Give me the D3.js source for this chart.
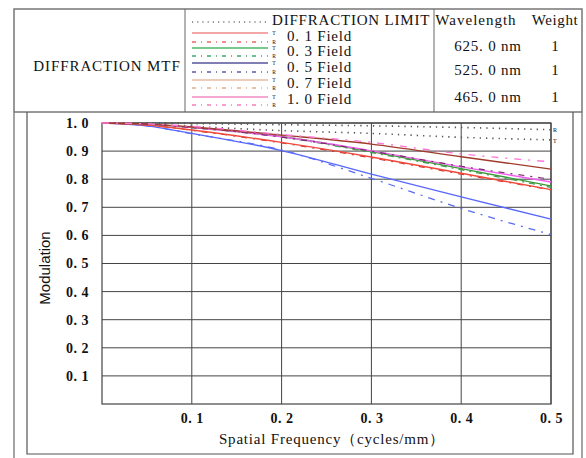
<!DOCTYPE html>
<html>
<head>
<meta charset="utf-8">
<script src="https://cdn.jsdelivr.net/npm/d3@7"></script>
<style>
  body { margin: 0; background: #fff; }
  svg text { font-family: "Liberation Serif", "Times New Roman", serif; fill: #111; }
</style>
</head>
<body>
<script>
const svgWidth = 586;
const svgHeight = 458;

// spatial frequency samples (cycles/mm)
const freq = [0, 0.05, 0.1, 0.2, 0.3, 0.4, 0.5];

// diffraction limit
const diffR = [1, 1.0, 0.998, 0.994, 0.99, 0.984, 0.976];
const diffT = [1, 0.996, 0.988, 0.973, 0.963, 0.949, 0.94];

// field curves (T = solid, R = dash-dot)
const field01T = [1, 0.993, 0.975, 0.931, 0.879, 0.821, 0.763];
const field01R = [1, 0.993, 0.974, 0.929, 0.876, 0.818, 0.762];
const field03T = [1, 0.996, 0.984, 0.952, 0.898, 0.838, 0.776];
const field03R = [1, 0.996, 0.983, 0.95, 0.895, 0.834, 0.771];
const field05T = [1, 0.99, 0.963, 0.902, 0.818, 0.737, 0.658];
const field05R = [1, 0.99, 0.962, 0.904, 0.803, 0.696, 0.603];
const field07T = [1, 0.996, 0.986, 0.957, 0.925, 0.88, 0.836];
const field07R = [1, 0.996, 0.984, 0.95, 0.9, 0.846, 0.80];
const field10T = [1, 0.996, 0.984, 0.951, 0.901, 0.844, 0.79];
const field10R = [1, 0.997, 0.988, 0.959, 0.931, 0.89, 0.862];

const xTicks = [0.1, 0.2, 0.3, 0.4, 0.5];
const yTicks = [0.1, 0.2, 0.3, 0.4, 0.5, 0.6, 0.7, 0.8, 0.9, 1.0];

const fieldLabels = ["0. 1 Field", "0. 3 Field", "0. 5 Field", "0. 7 Field", "1. 0 Field"];
const wavelengths = ["625. 0 nm", "525. 0 nm", "465. 0 nm"];
const weights = ["1", "1", "1"];

const svg = d3.select("body").append("svg")
    .attr("width", svgWidth)
    .attr("height", svgHeight);

// ---------- frames ----------
svg.append("rect")
    .attr("x", 14).attr("y", 9)
    .attr("width", 568).attr("height", 103)
    .attr("fill", "none").attr("stroke", "#777").attr("stroke-width", 1.5);
svg.append("line").attr("x1", 185).attr("x2", 185).attr("y1", 9).attr("y2", 112)
    .attr("stroke", "#666").attr("stroke-width", 1);
svg.append("line").attr("x1", 434).attr("x2", 434).attr("y1", 9).attr("y2", 112)
    .attr("stroke", "#666").attr("stroke-width", 1);
// lower outer frame
svg.append("path")
    .attr("d", "M14,112 V460 M582,112 V460")
    .attr("fill", "none").attr("stroke", "#888").attr("stroke-width", 1.5);
// inner frame
svg.append("path")
    .attr("d", "M27,112 V454 H573 V112")
    .attr("fill", "none").attr("stroke", "#555").attr("stroke-width", 1.2);

// ---------- header ----------
svg.append("text")
    .attr("x", 107).attr("y", 68)
    .attr("text-anchor", "middle").attr("dominant-baseline", "middle")
    .attr("font-size", 15).attr("letter-spacing", 0.9)
    .text("DIFFRACTION MTF");

const legendRows = [
    { y: 33, color: "#f08a8a", dash: null },
    { y: 42, color: "#e86a6a", dash: "4,5,1,5" },
    { y: 48, color: "#4cb86a", dash: null },
    { y: 56, color: "#3fa87a", dash: "4,5,1,5" },
    { y: 63, color: "#55559a", dash: null },
    { y: 72, color: "#5a5aa8", dash: "4,5,1,5" },
    { y: 80, color: "#e6bca6", dash: null },
    { y: 88, color: "#e0b090", dash: "4,5,1,5" },
    { y: 97, color: "#f08cc4", dash: null },
    { y: 105, color: "#f080b8", dash: "4,5,1,5" }
];

svg.append("line")
    .attr("x1", 192).attr("x2", 268).attr("y1", 22).attr("y2", 22)
    .attr("stroke", "#777").attr("stroke-width", 1.4).attr("stroke-dasharray", "1.2,4");

svg.selectAll(".legend-line").data(legendRows).join("line")
    .attr("class", "legend-line")
    .attr("x1", 192).attr("x2", 268)
    .attr("y1", d => d.y).attr("y2", d => d.y)
    .attr("stroke", d => d.color)
    .attr("stroke-width", 1.6)
    .attr("stroke-dasharray", d => d.dash);

svg.selectAll(".legend-tag").data(legendRows).join("text")
    .attr("class", "legend-tag")
    .attr("x", 274).attr("y", d => d.y + 2)
    .attr("text-anchor", "middle")
    .attr("font-size", 5.5)
    .text((d, i) => i % 2 === 0 ? "T" : "R");

svg.append("text")
    .attr("x", 272).attr("y", 22)
    .attr("dominant-baseline", "middle")
    .attr("font-size", 15).attr("letter-spacing", 0.8)
    .text("DIFFRACTION LIMIT");

const fieldY = [38, 53, 69, 85, 101];
svg.selectAll(".field-label").data(fieldLabels).join("text")
    .attr("class", "field-label")
    .attr("x", 287).attr("y", (d, i) => fieldY[i])
    .attr("dominant-baseline", "middle")
    .attr("font-size", 15).attr("letter-spacing", 0.8)
    .text(d => d);

svg.append("text")
    .attr("x", 476).attr("y", 22)
    .attr("text-anchor", "middle").attr("dominant-baseline", "middle")
    .attr("font-size", 15).attr("letter-spacing", 1)
    .text("Wavelength");
svg.append("text")
    .attr("x", 555).attr("y", 22)
    .attr("text-anchor", "middle").attr("dominant-baseline", "middle")
    .attr("font-size", 15).attr("letter-spacing", 0.6)
    .text("Weight");

const waveY = [48, 72, 99];
svg.selectAll(".wave-label").data(wavelengths).join("text")
    .attr("class", "wave-label")
    .attr("x", 488).attr("y", (d, i) => waveY[i])
    .attr("text-anchor", "middle").attr("dominant-baseline", "middle")
    .attr("font-size", 15).attr("letter-spacing", 0.8)
    .text(d => d);
svg.selectAll(".weight-label").data(weights).join("text")
    .attr("class", "weight-label")
    .attr("x", 555).attr("y", (d, i) => waveY[i])
    .attr("text-anchor", "middle").attr("dominant-baseline", "middle")
    .attr("font-size", 15)
    .text(d => d);

// ---------- plot ----------
const x = d3.scaleLinear().domain([0, 0.5]).range([102, 551]);
const y = d3.scaleLinear().domain([0, 1]).range([404, 123]);
const tickFormat = d => d3.format(".1f")(d).replace(".", ". ");

// grid
const grid = svg.append("g").attr("stroke", "#444").attr("stroke-width", 1);
grid.selectAll(".vgrid").data(xTicks).join("line")
    .attr("x1", d => x(d)).attr("x2", d => x(d))
    .attr("y1", y(0)).attr("y2", y(1));
grid.selectAll(".hgrid").data(yTicks).join("line")
    .attr("x1", x(0)).attr("x2", x(0.5))
    .attr("y1", d => y(d)).attr("y2", d => y(d));
svg.append("rect")
    .attr("x", x(0)).attr("y", y(1))
    .attr("width", x(0.5) - x(0)).attr("height", y(0) - y(1))
    .attr("fill", "none").attr("stroke", "#444").attr("stroke-width", 1.2);

// tick labels via axes
const yAxis = svg.append("g")
    .attr("transform", `translate(${x(0)},0)`)
    .call(d3.axisLeft(y).tickValues(yTicks).tickFormat(tickFormat).tickSize(0).tickPadding(13));
const xAxis = svg.append("g")
    .attr("transform", `translate(0,${y(0)})`)
    .call(d3.axisBottom(x).tickValues(xTicks).tickFormat(tickFormat).tickSize(0).tickPadding(9));
[xAxis, yAxis].forEach(a => {
    a.select(".domain").remove();
    a.selectAll("text")
        .attr("font-family", "'Liberation Serif', serif")
        .attr("font-size", 14)
        .attr("font-weight", "bold")
        .attr("letter-spacing", 0.5)
        .attr("fill", "#222");
});

// axis titles
svg.append("text")
    .attr("transform", "translate(50,268) rotate(-90)")
    .attr("text-anchor", "middle")
    .style("font-family", "'Liberation Sans', Arial, sans-serif")
    .attr("font-size", 15)
    .text("Modulation");
svg.append("text")
    .attr("x", 332).attr("y", 441)
    .attr("text-anchor", "middle").attr("dominant-baseline", "middle")
    .attr("font-size", 15).attr("letter-spacing", 0.8)
    .text("Spatial Frequency（cycles/mm）");

// curves
const curves = [
    { values: diffR, color: "#555", width: 1.6, dash: "1.3,5" },
    { values: diffT, color: "#555", width: 1.6, dash: "1.3,5" },
    { values: field05R, color: "#5a6cf0", width: 1.3, dash: "7,6,2,6" },
    { values: field05T, color: "#5868ff", width: 1.3, dash: null },
    { values: field01R, color: "#d03030", width: 1.2, dash: "6,6,2,6" },
    { values: field01T, color: "#f04a3c", width: 1.4, dash: null },
    { values: field03R, color: "#40a050", width: 1.3, dash: "6,5,2,5" },
    { values: field03T, color: "#3a9a3a", width: 1.3, dash: null },
    { values: field10T, color: "#f060f0", width: 1.4, dash: null },
    { values: field07R, color: "#7a2a6a", width: 1.2, dash: "6,6,2,6" },
    { values: field07T, color: "#a03a2a", width: 1.4, dash: null },
    { values: field10R, color: "#ff78d8", width: 1.4, dash: "7,7,2,7" }
];

const line = d3.line()
    .x((d, i) => x(freq[i]))
    .y(d => y(d))
    .curve(d3.curveMonotoneX);

svg.selectAll(".mtf").data(curves).join("path")
    .attr("class", "mtf")
    .attr("d", d => line(d.values))
    .attr("fill", "none")
    .attr("stroke", d => d.color)
    .attr("stroke-width", d => d.width)
    .attr("stroke-dasharray", d => d.dash);

// small R / T markers at the end of diffraction curves
svg.append("text").attr("x", 553).attr("y", y(diffR[diffR.length - 1]) + 2)
    .attr("font-size", 6).text("R");
svg.append("text").attr("x", 553).attr("y", y(diffT[diffT.length - 1]) + 3)
    .attr("font-size", 6).text("T");
</script>
</body>
</html>
